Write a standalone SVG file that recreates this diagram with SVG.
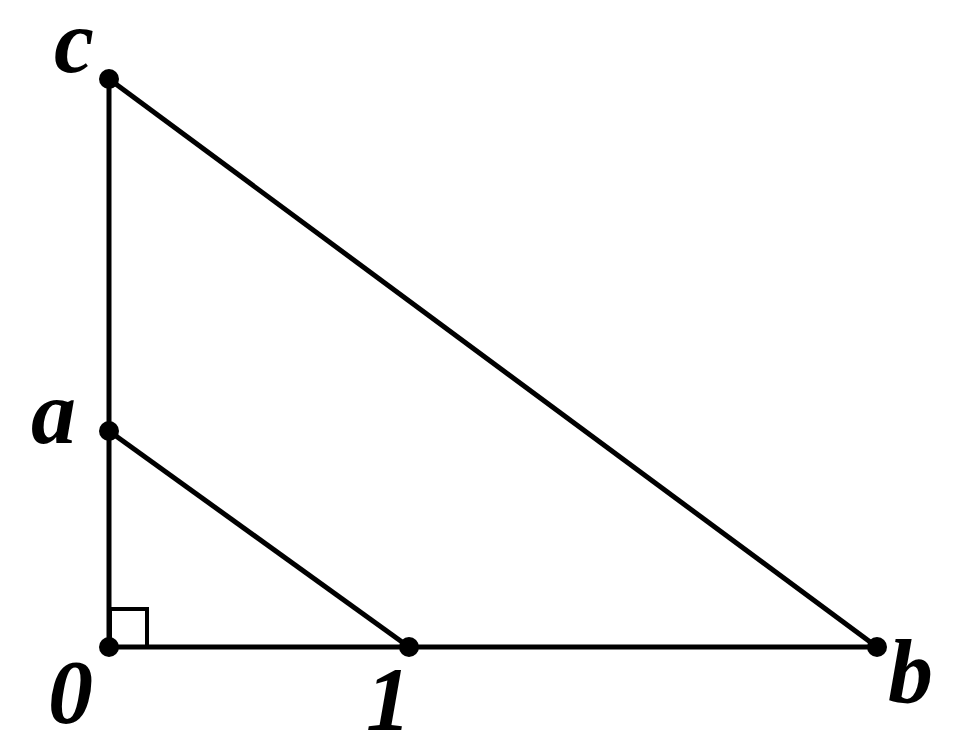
<svg xmlns="http://www.w3.org/2000/svg" width="961" height="755" viewBox="0 0 961 755">
<style>
.l{stroke:#000;stroke-width:5;fill:none}
.d{fill:#000}
.t{font-family:"Liberation Serif","Times New Roman",serif;font-weight:bold;font-style:italic;font-size:90px;fill:#000}
</style>
<rect width="961" height="755" fill="#fff"/>
<g id="connectors">
<line class="l" x1="109" y1="79" x2="109" y2="647"/>
<line class="l" x1="109" y1="647" x2="877" y2="647"/>
<line class="l" x1="109" y1="79" x2="877" y2="647"/>
<line class="l" x1="109" y1="431" x2="409" y2="647"/>
<polyline class="l" points="110,647 110,609 147,609 147,647" style="stroke-width:4"/>
</g>
<g id="node-c"><circle class="d" cx="109" cy="79" r="10"/><text class="t" x="54" y="72">c</text></g>
<g id="node-a"><circle class="d" cx="109" cy="431" r="10"/><text class="t" x="31" y="443">a</text></g>
<g id="node-0"><circle class="d" cx="109" cy="647" r="10"/><text class="t" x="48" y="723">0</text></g>
<g id="node-1"><circle class="d" cx="409" cy="647" r="10"/><text class="t" x="366" y="730">1</text></g>
<g id="node-b"><circle class="d" cx="877" cy="647" r="10"/><text class="t" x="888" y="702">b</text></g>
</svg>
